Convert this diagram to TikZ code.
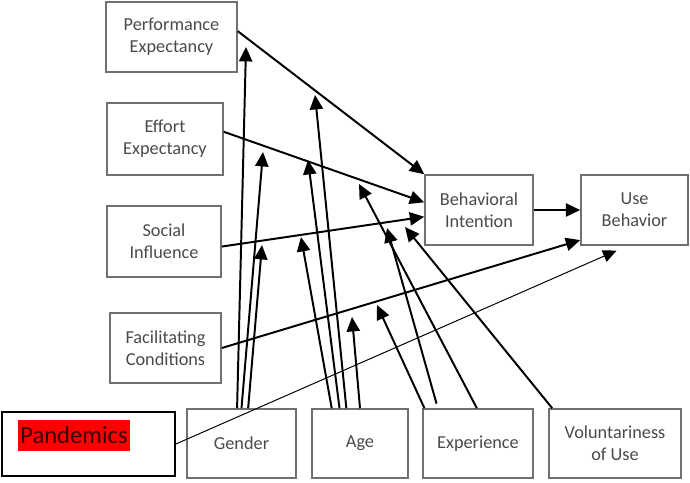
\documentclass[tikz,border=0pt]{standalone}
\usepackage{fontspec}
\setmainfont{Carlito}
\usetikzlibrary{arrows.meta}
\usetikzlibrary{calc}

\definecolor{boxgray}{HTML}{707070}
\definecolor{txtgray}{HTML}{4A4A4A}
\definecolor{pandtxt}{HTML}{3C0000}

\tikzset{
    box/.style={draw=boxgray, line width=1.1pt, align=center, text=txtgray,
                font=\fontsize{13}{15.6}\selectfont, inner sep=0pt},
    arr/.style={line width=1.4pt, -{Triangle[length=3.6mm,width=3.3mm]}},
    thinarr/.style={line width=0.7pt, -{Triangle[length=3.4mm,width=3.1mm]}}
}

\begin{document}
\begin{tikzpicture}[x=0.025cm,y=-0.025cm]

            %\draw [help lines] (0,0) grid (690,482);
            \useasboundingbox (0,0) rectangle (690,482);

            \path   (171.5,37)  node (pe) [box,minimum width=3.275cm,minimum height=1.75cm] {Performance\\Expectancy}
                    (165,139) node (ee) [box,minimum width=2.9cm,minimum height=1.8cm] {Effort\\Expectancy}
                    (164,241.5) node (si) [box,minimum width=2.85cm,minimum height=1.775cm] {Social\\Influence}
                    (165.5,348) node (fc) [box,minimum width=2.775cm,minimum height=1.75cm] {Facilitating\\Conditions}
                    (479,210) node (bi) [box,minimum width=2.7cm,minimum height=1.75cm] {Behavioral\\Intention}
                    (634.5,210) node (ub) [box,minimum width=2.675cm,minimum height=1.75cm] {Use\\Behavior}
                    (241.5,443.5) node (gen) [box,minimum width=2.725cm,minimum height=1.725cm] {Gender}
                    (360,443.5) node (age) [box,minimum width=2.4cm,minimum height=1.725cm] {Age}
                    (478,443.5) node (exp) [box,minimum width=2.75cm,minimum height=1.725cm] {Experience}
                    (615,443.5) node (vol) [box,minimum width=3.3cm,minimum height=1.725cm] {Voluntariness\\of Use}
                    (88.5,444) node (pan) [draw=black,line width=1.2pt,minimum width=4.325cm,minimum height=1.6cm] {}
                    (74,435.5) node (pantext) [fill=red,text=pandtxt,inner sep=0pt,minimum width=2.8cm,
                                               minimum height=0.775cm,font=\fontsize{17.5}{20}\selectfont] {Pandemics};

            % ends of the moderating arrows
            \coordinate (g1) at (246,47);
            \coordinate (g2) at (263,152);
            \coordinate (g3) at (262,245);
            \coordinate (a1) at (315,95);
            \coordinate (a2) at (308,160);
            \coordinate (a3) at (301,237);
            \coordinate (a4) at (352,317);
            \coordinate (e1) at (359,184);
            \coordinate (e2) at (387,228);
            \coordinate (e3) at (377,305);
            \coordinate (v1) at (405,227);

            \draw[arr] (pe.5) -- (bi.north west);
            \draw[arr] (ee.7) -- (bi.172);
            \draw[arr] (si.-5) -- (bi.187);
            \draw[arr] (bi.east) -- (ub.west);
            \draw[arr] (fc.east) -- (ub.209);
            \draw[thinarr,shorten >=0.3cm] (pan.east) -- (ub.259);

            \draw[arr] ($(gen.north west)!0.46!(gen.north east)$) -- (g1);
            \draw[arr] ($(gen.north west)!0.50!(gen.north east)$) -- (g2);
            \draw[arr] ($(gen.north west)!0.56!(gen.north east)$) -- (g3);
            \draw[arr] ($(age.north west)!0.36!(age.north east)$) -- (a1);
            \draw[arr] ($(age.north west)!0.29!(age.north east)$) -- (a2);
            \draw[arr] ($(age.north west)!0.21!(age.north east)$) -- (a3);
            \draw[arr] ($(age.north west)!0.50!(age.north east)$) -- (a4);
            \draw[arr] ($(exp.north west)!0.49!(exp.north east)$) -- (e1);
            \draw[arr,shorten <=0.12cm] ($(exp.north west)!0.14!(exp.north east)$) -- (e2);
            \draw[arr] ($(exp.north west)!0.02!(exp.north east)$) -- (e3);
            \draw[arr] ($(vol.north west)!0.03!(vol.north east)$) -- (v1);

\end{tikzpicture}
\end{document}
